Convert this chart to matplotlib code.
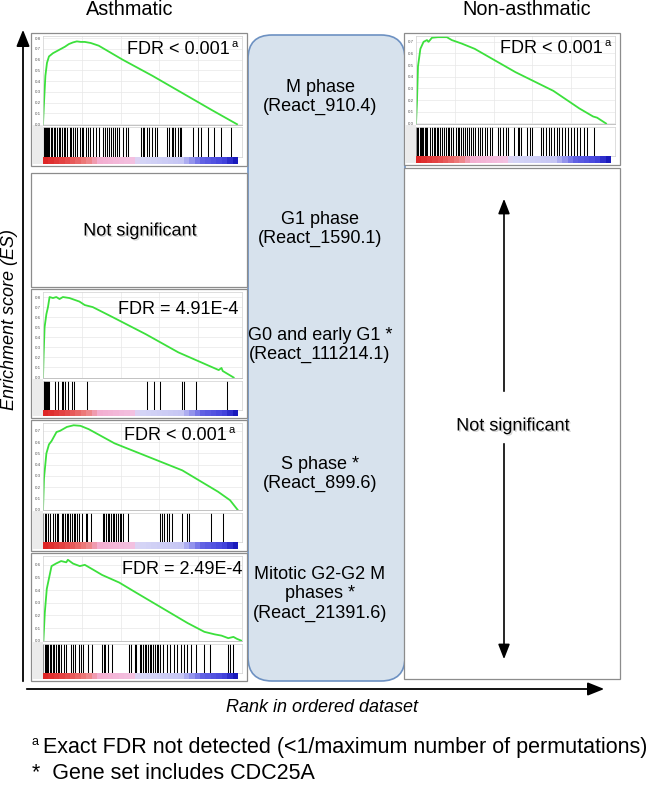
import numpy as np
import matplotlib.pyplot as plt
import matplotlib.patheffects as pe
from matplotlib.patches import Rectangle, FancyBboxPatch
from matplotlib.colors import LinearSegmentedColormap

plt.rcParams['font.family'] = ['Liberation Sans', 'DejaVu Sans']

W, H = 660, 790

# ---- running enrichment score curves (rank in %, ES) ----
asth_m_x = [0, 0.5, 1.2, 2, 3, 5, 8, 11, 13, 15, 17, 19, 21, 24, 28, 40, 55, 70, 85, 97.5]
asth_m_y = [0, 0.2, 0.45, 0.57, 0.63, 0.66, 0.69, 0.72, 0.745, 0.76, 0.77, 0.765, 0.765,
            0.755, 0.73, 0.60, 0.45, 0.29, 0.13, 0.0]
asth_m_hits = [0.3, 0.8, 1.3, 1.9, 2.6, 3.2, 3.9, 4.6, 5.4, 6.1, 7.0, 7.8, 8.6, 9.5, 10.4,
               11.3, 12.2, 13.4, 14.3, 15.2, 16.1, 17.0, 18.5, 19.4, 20.3, 21.8, 22.7, 23.6,
               25.0, 26.5, 28.0, 29.9, 31.0, 32.1, 33.0, 34.1, 35.0, 36.0, 37.0, 38.0, 40.2,
               41.5, 42.6, 49.0, 50.2, 51.0, 52.3, 53.5, 55.0, 56.1, 57.3, 62.5, 63.5, 64.6,
               65.5, 66.4, 67.6, 68.6, 69.2, 75.2, 77.7, 79.4, 82.8, 86.1, 89.5, 94.6]

non_m_x = [0, 0.5, 1, 2.2, 3.8, 5.5, 6.3, 8, 11, 15.5, 18, 23, 29.5, 50, 69, 82, 89, 91, 95.5]
non_m_y = [0, 0.19, 0.49, 0.64, 0.70, 0.715, 0.70, 0.735, 0.74, 0.74, 0.715, 0.685, 0.64,
           0.44, 0.28, 0.13, 0.06, 0.05, 0.0]
non_m_hits = [0.2, 0.7, 1.2, 1.8, 2.4, 3.0, 3.6, 4.3, 5.0, 5.7, 7.2, 8.0, 8.8, 9.6, 10.5, 11.2,
              12.3, 13.2, 14.0, 15.0, 15.9, 16.8, 17.8, 18.7, 20.0, 20.9, 21.8, 22.7, 23.6,
              24.6, 25.5, 26.5, 27.5, 28.4, 29.4, 31.2, 32.1, 33.3, 34.5, 35.8, 37.0, 38.3,
              41.0, 42.3, 43.5, 45.0, 46.2, 49.2, 51.2, 52.0, 53.0, 56.0, 57.2, 58.5, 62.8,
              64.0, 65.3, 66.8, 68.0, 69.5, 70.8, 72.0, 73.5, 75.0, 76.3, 77.8, 79.5, 80.8,
              82.5, 84.2, 86.0, 89.2]

g0_x = [0, 0.3, 0.8, 1.7, 2.5, 3.3, 5, 6.7, 8.3, 10, 13.3, 18.3, 21, 25, 35, 51.7, 68,
        88.3, 89.7, 90.3, 95.8]
g0_y = [0, 0.22, 0.5, 0.63, 0.70, 0.80, 0.79, 0.80, 0.78, 0.80, 0.79, 0.755, 0.72, 0.70,
        0.60, 0.43, 0.25, 0.074, 0.095, 0.065, 0.0]
g0_hits = [0.3, 0.7, 1.0, 1.5, 2.0, 2.5, 3.0, 6.0, 7.7, 9.4, 10.3, 11.0, 12.8, 14.5, 15.4,
           22.2, 52.1, 55.6, 59.0, 70.0, 71.0, 76.9, 92.3]

s_x = [0, 0.5, 1.7, 3, 4.3, 6.8, 8.5, 12, 15.4, 18.8, 23, 35.9, 44.4, 70, 88, 94, 97.8]
s_y = [0, 0.28, 0.5, 0.58, 0.61, 0.69, 0.70, 0.735, 0.75, 0.745, 0.715, 0.59, 0.53, 0.35,
       0.16, 0.085, 0.0]
s_hits = [0, 0.9, 1.7, 2.6, 3.4, 5.1, 6.0, 6.8, 7.7, 9.4, 10.3, 11.1, 12.0, 12.8, 13.7, 14.5,
          15.4, 16.2, 17.1, 17.9, 19.7, 21.4, 22.2, 23.9, 29.9, 30.8, 31.6, 32.5, 33.3, 34.2,
          35.0, 35.9, 36.8, 37.6, 38.5, 39.3, 40.2, 42.7, 59.0, 59.8, 60.7, 62.4, 63.2, 65.0,
          70.1, 72.6, 73.5, 84.6, 90.6]

mit_x = [0.2, 0.9, 1.9, 3.1, 4.3, 6.5, 9.1, 11.7, 12.5, 15.1, 18.5, 21, 25.4, 29.7, 38.3,
         46.8, 55.4, 64, 72.6, 81.1, 86.3, 89.7, 93.1, 95.7, 97.4, 99.7]
mit_y = [0, 0.22, 0.41, 0.50, 0.59, 0.61, 0.63, 0.62, 0.64, 0.61, 0.59, 0.60, 0.56, 0.52,
         0.46, 0.38, 0.30, 0.22, 0.14, 0.07, 0.05, 0.04, 0.02, 0.03, 0.015, 0.0]
mit_hits = [0.2, 0.9, 1.5, 2.2, 2.7, 3.4, 3.9, 4.8, 5.7, 6.5, 7.4, 8.2, 9.1, 10.8, 11.7, 14.2,
            15.1, 16.0, 18.0, 19.0, 20.2, 22.8, 24.5, 29.7, 30.5, 31.4, 32.8, 34.8, 43.4,
            44.3, 46.0, 46.8, 48.5, 49.4, 50.3, 51.1, 52.0, 52.8, 53.7, 54.5, 55.4, 56.3,
            57.1, 58.0, 58.8, 60.5, 62.3, 64.0, 65.7, 67.4, 69.1, 70.8, 72.6, 74.3, 76.8,
            81.1, 83.7, 93.1, 94.0, 95.7]

gene_sets = ["M phase\n(React_910.4)", "G1 phase\n(React_1590.1)",
             "G0 and early G1 *\n(React_111214.1)", "S phase *\n(React_899.6)",
             "Mitotic G2-G2 M\nphases *\n(React_21391.6)"]

ranked_cmap = LinearSegmentedColormap.from_list("ranked", [
    (0.00, "#de2626"), (0.12, "#e65050"), (0.22, "#ee8282"), (0.28, "#f3aed0"),
    (0.47, "#f4c2e2"), (0.49, "#d6d6f7"), (0.72, "#c6c6f4"), (0.78, "#8c8cec"),
    (0.82, "#6464e4"), (0.94, "#4646de"), (1.00, "#1a1abc")])


def px_axes(fig, l, t, r, b):
    return fig.add_axes([l / W, 1 - b / H, (r - l) / W, (b - t) / H])


def gsea_panel(fig, bg, box, xs, ys, hits, ytick_top, ylim_top):
    l, t, r, b = box
    h = b - t
    bg.add_patch(Rectangle((l, t), r - l, h, facecolor="white", edgecolor="#8c8c8c", lw=0.9))
    bg.add_patch(Rectangle((l + 1, t + 0.695 * h), 11, h * 0.3 - 1, facecolor="#ebebeb", lw=0))

    es = px_axes(fig, l + 12, t + 3, r - 5, t + 0.69 * h)
    es.plot(xs, ys, color="#3ce03c", lw=1.3)
    es.set_xlim(0, 100)
    es.set_ylim(-0.005, ylim_top)
    ticks = np.arange(0, ytick_top + 0.01, 0.1)
    es.set_yticks(ticks)
    es.set_yticklabels(["%.1f" % v for v in ticks])
    es.set_xticks([19.5, 39, 58.5, 78])
    es.set_xticklabels([])
    es.tick_params(length=0, labelsize=3.2, labelcolor="#555555", pad=1.5)
    es.grid(color="#e8e8e8", lw=0.5)
    for s in es.spines.values():
        s.set_color("#d0d0d0")
        s.set_lw(0.5)
    es.spines["bottom"].set_color("#aaaaaa")

    hx = px_axes(fig, l + 12, t + 0.71 * h, r - 5, t + 0.935 * h)
    hx.vlines(hits, 0, 1, color="black", lw=0.75)
    hx.set_xlim(0, 100)
    hx.set_ylim(0, 1)
    hx.set_xticks([])
    hx.set_yticks([])
    for s in hx.spines.values():
        s.set_color("#d0d0d0")
        s.set_lw(0.5)

    cb = px_axes(fig, l + 12, t + 0.935 * h, r - 5, b - 2)
    cb.imshow(np.linspace(0, 1, 36)[None, :], extent=[0, 97.5, 0, 1], aspect="auto",
              cmap=ranked_cmap, interpolation="nearest")
    cb.set_xlim(0, 100)
    cb.set_ylim(0, 1)
    cb.axis("off")


def fdr_label(top, label, sup, x_right, y_base):
    top.text(x_right, y_base, label, ha="right", va="baseline", fontsize=13)
    if sup:
        top.text(x_right + 1.5, y_base - 7, "a", ha="left", va="baseline", fontsize=8)


def main():
    fig = plt.figure(figsize=(6.6, 7.9), dpi=100)
    bg = fig.add_axes([0, 0, 1, 1])
    bg.set_xlim(0, W)
    bg.set_ylim(H, 0)
    bg.axis("off")

    # column titles
    bg.text(130, 15, "Asthmatic", ha="center", va="baseline", fontsize=14.3)
    bg.text(527, 15, "Non-asthmatic", ha="center", va="baseline", fontsize=14.3)

    # central gene-set column
    bg.add_patch(FancyBboxPatch((248 + 24, 35 + 24), 157 - 48, 646 - 48,
                                boxstyle="round,pad=24", facecolor="#d7e2ed",
                                edgecolor="#6d91c2", lw=1.2))
    for lbl, yc in zip(gene_sets, [97, 229, 345, 474, 594]):
        bg.text(320, yc, lbl, ha="center", va="center", fontsize=13, linespacing=1.15)

    # asthmatic column
    gsea_panel(fig, bg, (31, 33, 247, 166), asth_m_x, asth_m_y, asth_m_hits, 0.8, 0.82)
    bg.add_patch(Rectangle((31, 173), 216, 114, facecolor="white", edgecolor="#8c8c8c", lw=0.9))
    shadow = [pe.SimplePatchShadow(offset=(1, -1), shadow_rgbFace="#888888", alpha=0.35),
              pe.Normal()]
    bg.text(140, 231, "Not significant", ha="center", va="center", fontsize=13,
            path_effects=shadow)
    gsea_panel(fig, bg, (31, 289, 247, 418), g0_x, g0_y, g0_hits, 0.8, 0.85)
    gsea_panel(fig, bg, (31, 420, 247, 551), s_x, s_y, s_hits, 0.7, 0.77)
    gsea_panel(fig, bg, (31, 553, 247, 681), mit_x, mit_y, mit_hits, 0.6, 0.67)

    # non-asthmatic column
    gsea_panel(fig, bg, (404, 33, 620, 165), non_m_x, non_m_y, non_m_hits, 0.7, 0.75)
    bg.add_patch(Rectangle((404, 168), 216, 511, facecolor="white", edgecolor="#8c8c8c", lw=0.9))
    bg.annotate("", xy=(504, 196), xytext=(504, 394),
                arrowprops=dict(arrowstyle="-|>,head_length=0.9,head_width=0.35",
                                color="black", lw=1.2))
    bg.annotate("", xy=(504, 662), xytext=(504, 441),
                arrowprops=dict(arrowstyle="-|>,head_length=0.9,head_width=0.35",
                                color="black", lw=1.2))
    bg.text(513, 426, "Not significant", ha="center", va="center", fontsize=13,
            path_effects=shadow)

    # axis arrows and titles
    bg.annotate("", xy=(23, 27), xytext=(23, 684),
                arrowprops=dict(arrowstyle="-|>,head_length=1.0,head_width=0.4",
                                color="black", lw=1.3))
    bg.annotate("", xy=(607, 689), xytext=(24, 689),
                arrowprops=dict(arrowstyle="-|>,head_length=1.0,head_width=0.4",
                                color="black", lw=1.3))
    bg.text(10, 320, "Enrichment score (ES)", rotation=90, ha="center", va="center",
            fontsize=13, style="italic")
    bg.text(322, 712, "Rank in ordered dataset", ha="center", va="baseline",
            fontsize=13, style="italic")

    # footnotes
    bg.text(32, 745, "a", ha="left", va="baseline", fontsize=9)
    bg.text(43, 753, "Exact FDR not detected (<1/maximum number of permutations)",
            ha="left", va="baseline", fontsize=15.5)
    bg.text(32, 779, "*  Gene set includes CDC25A", ha="left", va="baseline", fontsize=15.5)

    # transparent overlay for the FDR labels drawn over the panels
    top = fig.add_axes([0, 0, 1, 1])
    top.set_xlim(0, W)
    top.set_ylim(H, 0)
    top.axis("off")
    fdr_label(top, "FDR < 0.001", True, 230, 54)
    fdr_label(top, "FDR = 4.91E-4", False, 238, 314)
    fdr_label(top, "FDR < 0.001", True, 227, 440)
    fdr_label(top, "FDR = 2.49E-4", False, 242, 574)
    fdr_label(top, "FDR < 0.001", True, 603, 53)

    fig.savefig("out.png", dpi=100)


if __name__ == "__main__":
    main()
